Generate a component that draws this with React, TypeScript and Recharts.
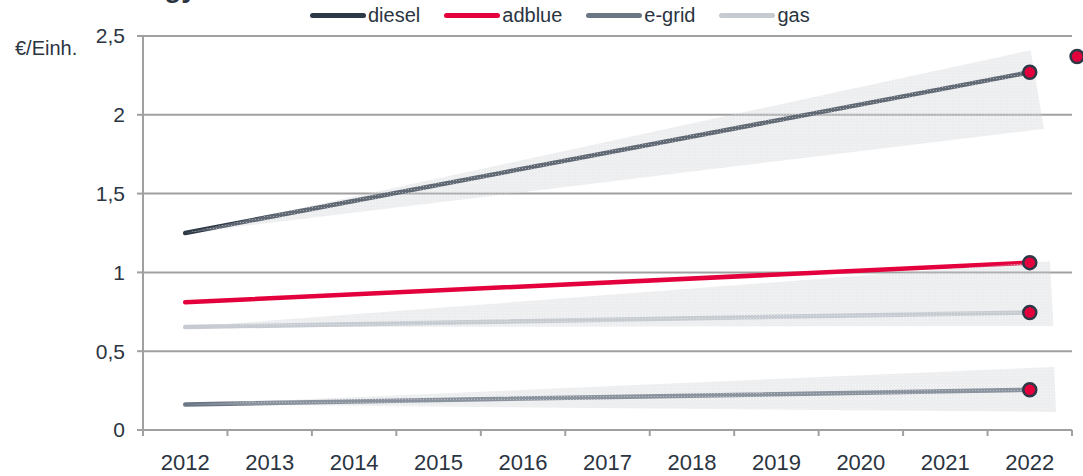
import React from 'react';
import {
  ComposedChart,
  Line,
  Area,
  Scatter,
  XAxis,
  YAxis,
  CartesianGrid,
  ReferenceDot,
} from 'recharts';

// chart values
const years = [2012, 2022];
const diesel = [1.25, 2.27];
const adblue = [0.81, 1.062];
const egrid = [0.162, 0.255];
const gas = [0.653, 0.746];

// uncertainty fans (x, low, high)
const dieselBandX = [2012, 2022.01, 2022.17];
const dieselBandLow = [1.25, 1.9, 1.91];
const dieselBandHigh = [1.25, 2.41, 1.91];

const gasBandX = [2012, 2022.24, 2022.28];
const gasBandLow = [0.653, 0.66, 0.66];
const gasBandHigh = [0.653, 1.07, 0.66];

const egridBandX = [2012, 2022.29, 2022.31];
const egridBandLow = [0.162, 0.115, 0.113];
const egridBandHigh = [0.162, 0.4, 0.113];

// the lone dot at the right edge
const extraDot = { x: 2022.56, y: 2.37 };

const yearLabels = ['2012', '2013', '2014', '2015', '2016', '2017', '2018', '2019', '2020', '2021', '2022'];
const yTicks = [0, 0.5, 1, 1.5, 2, 2.5];

const COLORS = {
  diesel: '#2e3947',
  adblue: '#e4003c',
  egrid: '#6c7785',
  gas: '#c6cbd2',
};
const TEXT = '#2b3441';
const AXIS = '#a0a0a0';
const FONT = '"Liberation Sans", Arial, sans-serif';

const W = 1083;
const H = 476;
const PLOT_LEFT = 143;
const PLOT_RIGHT = 1072;
const HALF_STEP = (PLOT_RIGHT - PLOT_LEFT) / yearLabels.length / 2;

// build one table from the small arrays
function buildTable() {
  const rows: Record<number, any> = {};
  const row = (x: number) => (rows[x] = rows[x] || { x });
  years.forEach((yr, i) => {
    const r = row(yr);
    r.diesel = diesel[i];
    r.adblue = adblue[i];
    r.egrid = egrid[i];
    r.gas = gas[i];
  });
  dieselBandX.forEach((x, i) => (row(x).dieselBand = [dieselBandLow[i], dieselBandHigh[i]]));
  gasBandX.forEach((x, i) => (row(x).gasBand = [gasBandLow[i], gasBandHigh[i]]));
  egridBandX.forEach((x, i) => (row(x).egridBand = [egridBandLow[i], egridBandHigh[i]]));
  return Object.values(rows).sort((a, b) => a.x - b.x);
}
const tableData = buildTable();

const endMarkers = [
  { x: years[1], y: diesel[1] },
  { x: years[1], y: adblue[1] },
  { x: years[1], y: gas[1] },
  { x: years[1], y: egrid[1] },
];

// tick marks sit between the years
const xBounds = [...yearLabels.map(l => Number(l) - 0.5), Number(yearLabels[yearLabels.length - 1]) + 0.5];

const legendItems = [
  { name: 'diesel', color: COLORS.diesel },
  { name: 'adblue', color: COLORS.adblue },
  { name: 'e-grid', color: COLORS.egrid },
  { name: 'gas', color: COLORS.gas },
];

function YearTick({ x, y, payload }: any) {
  const label = String(Math.round(payload.value + 0.5));
  if (!yearLabels.includes(label)) return null;
  return (
    <text x={x + HALF_STEP} y={y + 32} textAnchor="middle" fill={TEXT} fontSize={22} fontFamily={FONT}>
      {label}
    </text>
  );
}

function Marker({ cx, cy }: any) {
  return <circle cx={cx} cy={cy} r={6.5} fill={COLORS.adblue} stroke={COLORS.diesel} strokeWidth={2.5} />;
}

const band = (key: string) => (d: any) => d[key] ?? [null, null];

export default function App() {
  return (
    <div style={{ position: 'absolute', left: 0, top: 0, width: W, height: H, overflow: 'hidden', background: '#fff', fontFamily: FONT }}>
      <svg width={0} height={0} style={{ position: 'absolute' }}>
        <defs>
          <pattern id="hatch" width={3} height={3} patternUnits="userSpaceOnUse">
            <rect width={3} height={3} fill="#c8cad2" fillOpacity={0.33} />
            <rect width={1} height={1} fill="#ffffff" fillOpacity={0.4} />
          </pattern>
        </defs>
      </svg>

      {/* title, mostly outside the picture */}
      <div style={{ position: 'absolute', left: 102, top: -26, fontSize: 28, lineHeight: '28px', fontWeight: 'bold', color: TEXT, whiteSpace: 'nowrap' }}>
        Energy
      </div>

      <div style={{ position: 'absolute', left: 15, top: 37, fontSize: 20, color: TEXT }}>€/Einh.</div>

      <div style={{ position: 'absolute', left: 310, top: 3, display: 'flex', gap: 24, alignItems: 'center' }}>
        {legendItems.map(it => (
          <div key={it.name} style={{ display: 'flex', alignItems: 'center', gap: 2 }}>
            <span style={{ display: 'inline-block', width: 56, height: 5, borderRadius: 3, background: it.color }} />
            <span style={{ fontSize: 20, color: TEXT, lineHeight: '24px' }}>{it.name}</span>
          </div>
        ))}
      </div>

      <ComposedChart
        width={W}
        height={H}
        data={tableData}
        margin={{ top: 36, right: W - PLOT_RIGHT, bottom: 0, left: 0 }}
        style={{ overflow: 'visible' }}
      >
        <CartesianGrid vertical={false} stroke={AXIS} strokeWidth={2} />
        <XAxis
          type="number"
          dataKey="x"
          domain={[xBounds[0], xBounds[xBounds.length - 1]]}
          ticks={xBounds}
          interval={0}
          height={H - 430}
          tick={<YearTick />}
          tickSize={6}
          tickMargin={2}
          tickLine={{ stroke: AXIS, strokeWidth: 2 }}
          axisLine={{ stroke: AXIS, strokeWidth: 2 }}
          allowDataOverflow
        />
        <YAxis
          type="number"
          domain={[0, 2.5]}
          ticks={yTicks}
          interval={0}
          width={PLOT_LEFT}
          tickSize={6}
          tickMargin={12}
          tickFormatter={(v: number) => String(v).replace('.', ',')}
          tick={{ fill: TEXT, fontSize: 21, fontFamily: FONT }}
          tickLine={{ stroke: AXIS, strokeWidth: 2 }}
          axisLine={{ stroke: AXIS, strokeWidth: 2 }}
        />

        <Line dataKey="egrid" stroke={COLORS.egrid} strokeWidth={4.5} strokeLinecap="round" dot={false} connectNulls isAnimationActive={false} />
        <Line dataKey="gas" stroke={COLORS.gas} strokeWidth={4.5} strokeLinecap="round" dot={false} connectNulls isAnimationActive={false} />
        <Line dataKey="adblue" stroke={COLORS.adblue} strokeWidth={4.5} strokeLinecap="round" dot={false} connectNulls isAnimationActive={false} />
        <Line dataKey="diesel" stroke={COLORS.diesel} strokeWidth={4.5} strokeLinecap="round" dot={false} connectNulls isAnimationActive={false} />

        {/* fans lie on top of the lines */}
        <Area dataKey={band('dieselBand')} type="linear" stroke="none" fill="url(#hatch)" fillOpacity={1} connectNulls zIndex={450} isAnimationActive={false} />
        <Area dataKey={band('gasBand')} type="linear" stroke="none" fill="url(#hatch)" fillOpacity={1} connectNulls zIndex={450} isAnimationActive={false} />
        <Area dataKey={band('egridBand')} type="linear" stroke="none" fill="url(#hatch)" fillOpacity={1} connectNulls zIndex={450} isAnimationActive={false} />

        <Scatter data={endMarkers} dataKey="y" shape={<Marker />} zIndex={600} isAnimationActive={false} />
        <ReferenceDot x={extraDot.x} y={extraDot.y} r={6.5} fill={COLORS.adblue} stroke={COLORS.diesel} strokeWidth={2.5} ifOverflow="visible" />
      </ComposedChart>
    </div>
  );
}
